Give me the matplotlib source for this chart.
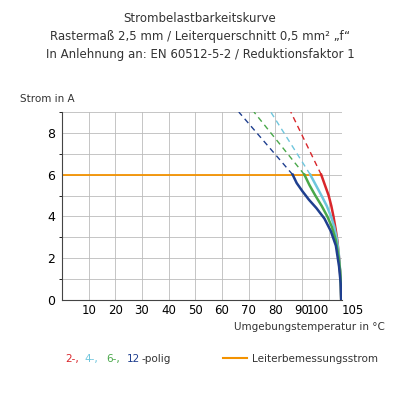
import numpy as np
import matplotlib
matplotlib.use("Agg")
import matplotlib.pyplot as plt

# solid curves (temperature, current)
c2_x = [97.2, 98.6, 100.0, 101.0, 101.8, 102.6, 103.3, 103.9, 104.3, 104.6, 104.7]
c2_y = [6.0, 5.5, 5.0, 4.5, 4.0, 3.4, 2.8, 2.0, 1.3, 0.6, 0.0]
c4_x = [93.1, 95.2, 97.3, 99.3, 100.9, 102.1, 103.1, 103.8, 104.3, 104.6, 104.7]
c4_y = [6.0, 5.5, 5.0, 4.5, 4.0, 3.5, 2.9, 2.2, 1.4, 0.7, 0.0]
c6_x = [90.9, 92.8, 95.0, 97.4, 99.5, 101.2, 102.6, 103.7, 104.3, 104.6, 104.7]
c6_y = [6.0, 5.5, 5.0, 4.5, 4.0, 3.5, 2.9, 2.1, 1.4, 0.7, 0.0]
c12_x = [86.5, 88.0, 90.2, 92.6, 95.4, 98.4, 100.8, 102.7, 103.9, 104.5, 104.7]
c12_y = [6.0, 5.6, 5.2, 4.8, 4.4, 3.9, 3.3, 2.6, 1.6, 0.8, 0.0]
# dashed extensions end points at the top
dash_top_x = [85.8, 78.3, 72.0, 66.3]
dash_top_y = 9.0
rated_current = 6.0

colors = ['#d9262b', '#6fc6dd', '#4aa84a', '#1f3f8f']
series_x = [c2_x, c4_x, c6_x, c12_x]
series_y = [c2_y, c4_y, c6_y, c12_y]

fig = plt.figure(figsize=(4, 4), dpi=100)
ax = fig.add_axes([0.155, 0.25, 0.70, 0.47])

ax.plot([0, c2_x[0]], [rated_current, rated_current], color='#f39200', lw=1.3, zorder=2)
for xs, ys, c, tx in zip(series_x, series_y, colors, dash_top_x):
    ax.plot(xs, ys, color=c, lw=1.8, zorder=3)
    ax.plot([xs[0], tx], [ys[0], dash_top_y], color=c, lw=1.0, ls=(0, (4, 3)), zorder=3)

ax.set_xlim(0, 105)
ax.set_ylim(0, 9)
ax.set_xticks([10, 20, 30, 40, 50, 60, 70, 80, 90, 100, 105])
ax.set_xticklabels(['10', '20', '30', '40', '50', '60', '70', '80', '90', '100', '105'], fontsize=8.5)
ax.set_yticks([0, 2, 4, 6, 8])
ax.set_yticks([1, 3, 5, 7, 9], minor=True)
ax.grid(True, which='both', color='#bbbbbb', lw=0.6)
ax.tick_params(axis='y', labelsize=9, length=0, pad=5)
ax.tick_params(axis='x', length=0, pad=3)
lbls = ax.get_xticklabels()
lbls[-2].set_ha('right')
lbls[-1].set_ha('left')
for s in ['top', 'right']:
    ax.spines[s].set_visible(False)
for s in ['left', 'bottom']:
    ax.spines[s].set_color('#444444')

fig.text(0.5, 0.945, 'Strombelastbarkeitskurve', ha='center', fontsize=8.5, color='#333333')
fig.text(0.5, 0.9, 'Rastermaß 2,5 mm / Leiterquerschnitt 0,5 mm² „f“', ha='center', fontsize=8.5, color='#333333')
fig.text(0.5, 0.855, 'In Anlehnung an: EN 60512-5-2 / Reduktionsfaktor 1', ha='center', fontsize=8.5, color='#333333')
fig.text(0.05, 0.745, 'Strom in A', fontsize=7.5, color='#333333')
fig.text(0.585, 0.175, 'Umgebungstemperatur in °C', fontsize=7.5, color='#333333')

legend_labels = ['2-,', '4-,', '6-,', '12']
legend_xpos = [0.162, 0.212, 0.265, 0.317]
for label, c, xp in zip(legend_labels, colors, legend_xpos):
    fig.text(xp, 0.095, label, fontsize=7.5, color=c)
fig.text(0.355, 0.095, '-polig', fontsize=7.5, color='#333333')
fig.lines.append(plt.Line2D([0.557, 0.617], [0.105, 0.105], color='#f39200', lw=1.5, transform=fig.transFigure))
fig.text(0.63, 0.095, 'Leiterbemessungsstrom', fontsize=7.5, color='#333333')

fig.savefig('out.png', dpi=100)
